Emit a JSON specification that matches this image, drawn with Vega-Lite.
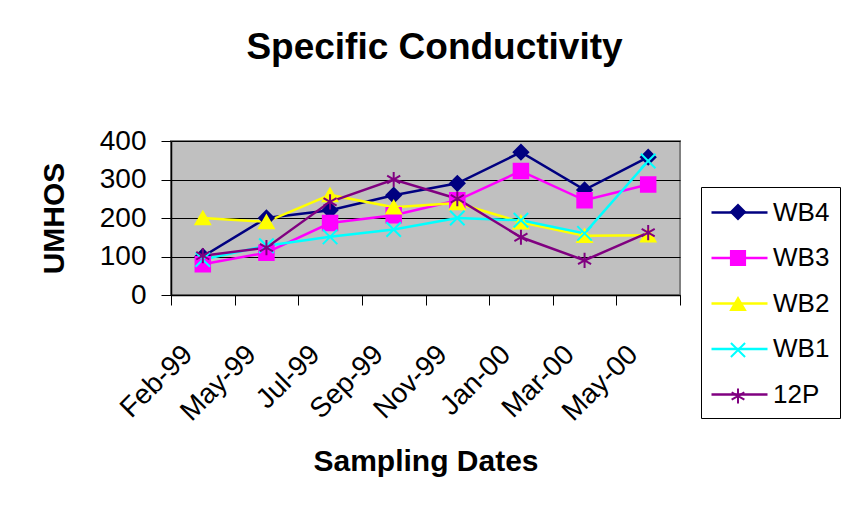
{
  "$schema": "https://vega.github.io/schema/vega-lite/v6.json",
  "width": 509,
  "height": 154,
  "autosize": {"type": "none"},
  "padding": {"left": 171, "top": 141, "right": 169, "bottom": 215},
  "background": "white",
  "config": {
    "font": "Liberation Sans",
    "view": {"fill": "#c0c0c0", "stroke": "#808080", "strokeWidth": 2}
  },
  "title": {
    "text": "Specific Conductivity",
    "font": "Liberation Sans",
    "fontSize": 37,
    "fontWeight": "bold",
    "color": "black",
    "anchor": "middle",
    "frame": "group",
    "baseline": "alphabetic",
    "dx": 9,
    "offset": 31
  },
  "data": {
    "values": [
      {"date": "Feb-99", "series": "WB4", "value": 100},
      {"date": "May-99", "series": "WB4", "value": 200},
      {"date": "Jul-99", "series": "WB4", "value": 220},
      {"date": "Sep-99", "series": "WB4", "value": 259},
      {"date": "Nov-99", "series": "WB4", "value": 290},
      {"date": "Jan-00", "series": "WB4", "value": 371},
      {"date": "Mar-00", "series": "WB4", "value": 273},
      {"date": "May-00", "series": "WB4", "value": 358},
      {"date": "Feb-99", "series": "WB3", "value": 80},
      {"date": "May-99", "series": "WB3", "value": 110},
      {"date": "Jul-99", "series": "WB3", "value": 187},
      {"date": "Sep-99", "series": "WB3", "value": 207},
      {"date": "Nov-99", "series": "WB3", "value": 246},
      {"date": "Jan-00", "series": "WB3", "value": 322},
      {"date": "Mar-00", "series": "WB3", "value": 246},
      {"date": "May-00", "series": "WB3", "value": 287},
      {"date": "Feb-99", "series": "WB2", "value": 200},
      {"date": "May-99", "series": "WB2", "value": 190},
      {"date": "Jul-99", "series": "WB2", "value": 260},
      {"date": "Sep-99", "series": "WB2", "value": 228},
      {"date": "Nov-99", "series": "WB2", "value": 239},
      {"date": "Jan-00", "series": "WB2", "value": 189},
      {"date": "Mar-00", "series": "WB2", "value": 154},
      {"date": "May-00", "series": "WB2", "value": 155},
      {"date": "Feb-99", "series": "WB1", "value": 92},
      {"date": "May-99", "series": "WB1", "value": 128},
      {"date": "Jul-99", "series": "WB1", "value": 151},
      {"date": "Sep-99", "series": "WB1", "value": 170},
      {"date": "Nov-99", "series": "WB1", "value": 200},
      {"date": "Jan-00", "series": "WB1", "value": 194},
      {"date": "Mar-00", "series": "WB1", "value": 160},
      {"date": "May-00", "series": "WB1", "value": 348},
      {"date": "Feb-99", "series": "12P", "value": 102},
      {"date": "May-99", "series": "12P", "value": 123},
      {"date": "Jul-99", "series": "12P", "value": 242},
      {"date": "Sep-99", "series": "12P", "value": 300},
      {"date": "Nov-99", "series": "12P", "value": 250},
      {"date": "Jan-00", "series": "12P", "value": 150},
      {"date": "Mar-00", "series": "12P", "value": 90},
      {"date": "May-00", "series": "12P", "value": 162}
    ]
  },
  "encoding": {
    "x": {
      "field": "date",
      "type": "ordinal",
      "bandPosition": 0.5,
      "sort": ["Feb-99", "May-99", "Jul-99", "Sep-99", "Nov-99", "Jan-00", "Mar-00", "May-00"],
      "scale": {"type": "band", "paddingInner": 0, "paddingOuter": 0},
      "axis": {
        "title": "Sampling Dates",
        "titleFontSize": 30,
        "titleFontWeight": "bold",
        "titleColor": "black",
        "titlePadding": 21,
        "labelFontSize": 28,
        "labelColor": "black",
        "labelAngle": -45,
        "labelAlign": "right",
        "labelBaseline": "middle",
        "labelPadding": 45,
        "labelOffset": -15,
        "tickBand": "extent",
        "tickExtra": true,
        "tickSize": 10,
        "tickColor": "black",
        "domainColor": "black",
        "domainWidth": 1.5,
        "grid": false
      }
    },
    "y": {
      "field": "value",
      "type": "quantitative",
      "scale": {"domain": [0, 400], "nice": false},
      "axis": {
        "title": "UMHOS",
        "titleFontSize": 30,
        "titleFontWeight": "bold",
        "titleColor": "black",
        "titlePadding": 30,
        "values": [0, 100, 200, 300, 400],
        "labelFontSize": 28,
        "labelColor": "black",
        "labelPadding": 15,
        "tickSize": 10,
        "tickColor": "black",
        "domainColor": "black",
        "domainWidth": 1.5,
        "grid": true,
        "gridColor": "black",
        "gridWidth": 1
      }
    }
  },
  "layer": [
    {
      "mark": {"type": "line", "strokeWidth": 2.5},
      "encoding": {
        "color": {
          "field": "series",
          "type": "nominal",
          "sort": ["WB4", "WB3", "WB2", "WB1", "12P"],
          "scale": {"range": ["#000080", "#ff00ff", "#ffff00", "#00ffff", "#800080"]},
          "legend": {
            "orient": "none",
            "legendX": 530,
            "legendY": 46,
            "title": null,
            "strokeColor": "black",
            "padding": 10,
            "symbolType": "M-2,0H2",
            "symbolSize": 784,
            "symbolOffset": 13,
            "symbolStrokeWidth": 2.5,
            "symbolOpacity": 1,
            "labelFontSize": 26,
            "labelColor": "black",
            "labelOffset": 18,
            "labelExpr": "datum.label + '\u00a0\u00a0\u00a0'",
            "rowPadding": 16.5
          }
        }
      }
    },
    {
      "mark": {"type": "point", "opacity": 1, "size": 210, "strokeWidth": 2},
      "encoding": {
        "fill": {
          "field": "series",
          "type": "nominal",
          "scale": {
            "domain": ["WB4", "WB3", "WB2", "WB1", "12P"],
            "range": ["#000080", "#ff00ff", "#ffff00", "#00ffff", "#800080"]
          },
          "legend": {
            "orient": "none",
            "legendX": 530,
            "legendY": 48,
            "title": null,
            "padding": 10,
            "symbolSize": 200,
            "symbolOffset": 14,
            "symbolStrokeWidth": 2,
            "symbolOpacity": 1,
            "labelFontSize": 26,
            "labelOpacity": 0,
            "labelOffset": 18,
            "rowPadding": 20
          }
        },
        "stroke": {
          "field": "series",
          "type": "nominal",
          "scale": {
            "domain": ["WB4", "WB3", "WB2", "WB1", "12P"],
            "range": ["#000080", "#ff00ff", "#ffff00", "#00ffff", "#800080"]
          },
          "legend": {
            "orient": "none",
            "legendX": 530,
            "legendY": 48,
            "title": null,
            "padding": 10,
            "symbolSize": 200,
            "symbolOffset": 14,
            "symbolStrokeWidth": 2,
            "symbolOpacity": 1,
            "labelFontSize": 26,
            "labelOpacity": 0,
            "labelOffset": 18,
            "rowPadding": 20
          }
        },
        "shape": {
          "field": "series",
          "type": "nominal",
          "scale": {
            "domain": ["WB4", "WB3", "WB2", "WB1", "12P"],
            "range": ["diamond", "square", "triangle-up", "M-1,-1L1,1M-1,1L1,-1", "M0,-1.05V1.05M-0.9,-0.52L0.9,0.52M-0.9,0.52L0.9,-0.52"]
          },
          "legend": {
            "orient": "none",
            "legendX": 530,
            "legendY": 48,
            "title": null,
            "padding": 10,
            "symbolSize": 200,
            "symbolOffset": 14,
            "symbolStrokeWidth": 2,
            "symbolOpacity": 1,
            "labelFontSize": 26,
            "labelOpacity": 0,
            "labelOffset": 18,
            "rowPadding": 20
          }
        }
      }
    }
  ]
}
